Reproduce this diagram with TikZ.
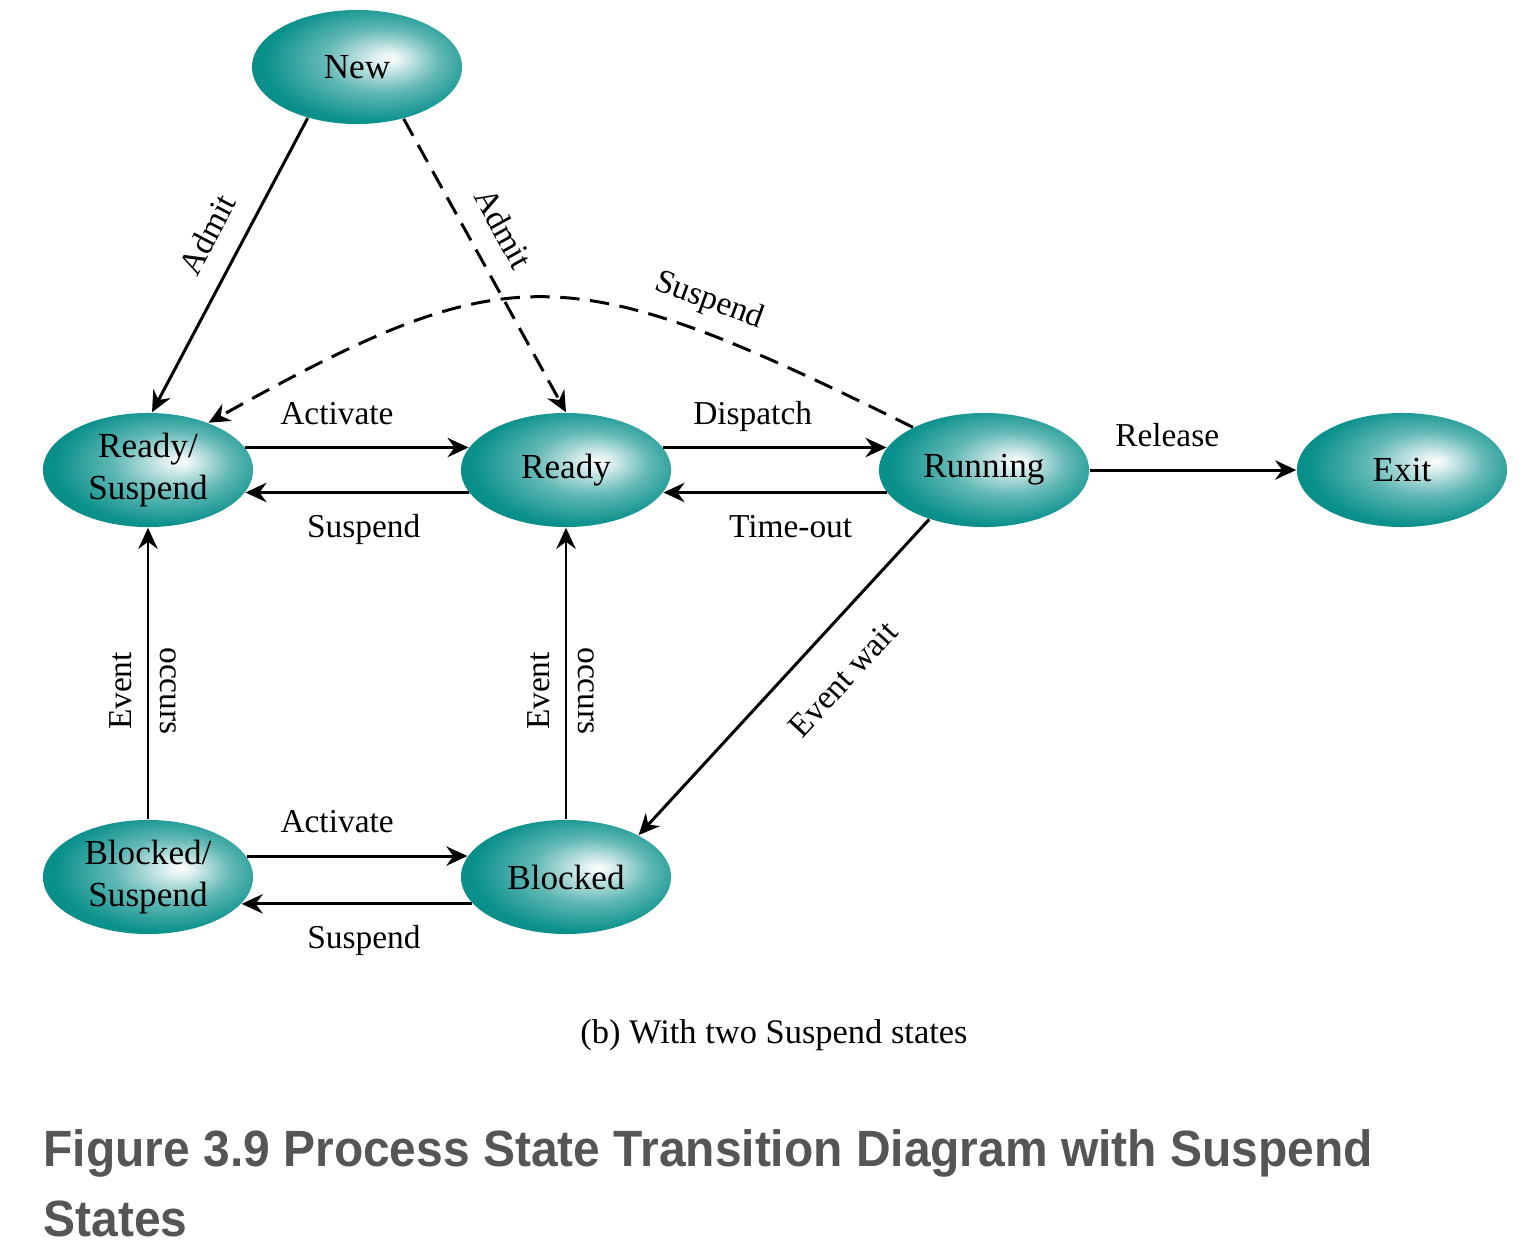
\documentclass[tikz,border=0pt]{standalone}
\usepackage{fontspec}
\setmainfont{Liberation Serif}
\newfontfamily\captfont[FakeStretch=0.94]{Liberation Sans}
\usetikzlibrary{shapes.geometric,arrows.meta}
\definecolor{statecol}{RGB}{0,140,135}
\definecolor{captgray}{RGB}{85,85,85}
\pgfdeclareradialshading{stateshade}{\pgfpoint{8bp}{4bp}}{color(0bp)=(white); color(3bp)=(white!88!statecol); color(14bp)=(statecol!62); color(26bp)=(statecol!96); color(50bp)=(statecol!85!black)}
\tikzset{state/.style={ellipse, minimum width=2.1cm, minimum height=1.14cm,
    inner sep=0pt, shade, shading=stateshade, align=center,
    font=\fontsize{10}{12.2}\selectfont},
    trans/.style={-{Stealth[length=6pt,width=5.5pt,inset=2pt]}, line width=0.85pt},
    susp/.style={trans, dash pattern=on 5.5pt off 3pt},
    lbl/.style={font=\fontsize{9.5}{11}\selectfont, inner sep=5pt,
    text height=1.6ex, text depth=.25ex},
    }
\begin{document}
\begin{tikzpicture}[x=0.01cm,y=-0.01cm]
\useasboundingbox (0,0) rectangle (1526,1254);
% states
\node[state] (new) at (357,67) {New};
\node[state] (rdysusp) at (148,470) {Ready/\\Suspend};
\node[state] (rdy) at (566,470) {Ready};
\node[state] (run) at (984,470) {Running};
\node[state] (ext) at (1402,470) {Exit};
\node[state] (blksusp) at (148,877) {Blocked/\\Suspend};
\node[state] (blk) at (566,877) {Blocked};
% transitions
\draw[trans] (new.226) -- node[lbl,sloped,above,pos=.45]{Admit} (rdysusp.86);
\draw[susp] (new.312) -- node[lbl,sloped,above,pos=.43]{Admit} (rdy.north);
\draw[susp] (run.149) .. controls (565,255) and (510,255) .. node[lbl,sloped,above,pos=.25]{Suspend} (rdysusp.38);
\draw[trans] (rdysusp.13) -- node[lbl,above,pos=.41]{Activate} (rdy.167);
\draw[trans] (rdy.193) -- node[lbl,below,pos=.47]{Suspend} (rdysusp.347);
\draw[trans] (rdy.13) -- node[lbl,above,pos=.4]{Dispatch} (run.167);
\draw[trans] (run.193) -- node[lbl,below,pos=.43]{Time-out} (rdy.347);
\draw[trans] (run) -- node[lbl,above,pos=.375]{Release} (ext);
\draw[trans] (blksusp) -- node[lbl,rotate=90,above,pos=.44,inner sep=3pt]{Event}
    node[lbl,rotate=-90,above,pos=.44,inner sep=2pt]{occurs} (rdysusp);
\draw[trans] (blk) -- node[lbl,rotate=90,above,pos=.44,inner sep=3pt]{Event}
    node[lbl,rotate=-90,above,pos=.44,inner sep=2pt]{occurs} (rdy);
\draw[trans] (run.222) -- node[lbl,sloped,below,pos=.41,inner sep=8pt]{Event wait} (blk.30);
\draw[trans] (blksusp.12) -- node[lbl,above,pos=.41]{Activate} (blk.168);
\draw[trans] (blk.196) -- node[lbl,below,pos=.47]{Suspend} (blksusp.344);
% captions
\node[font=\fontsize{9.8}{12}\selectfont] (sub) at (774,1035) {(b) With two Suspend states};
\node[anchor=base west, inner sep=0pt, text=captgray, font=\captfont\bfseries\fontsize{14.5}{17}\selectfont] (fig1) at (43,1166) {Figure 3.9 Process State Transition Diagram with Suspend};
\node[anchor=base west, inner sep=0pt, text=captgray, font=\captfont\bfseries\fontsize{14.5}{17}\selectfont] (fig2) at (43,1236) {States};
\end{tikzpicture}
\end{document}
